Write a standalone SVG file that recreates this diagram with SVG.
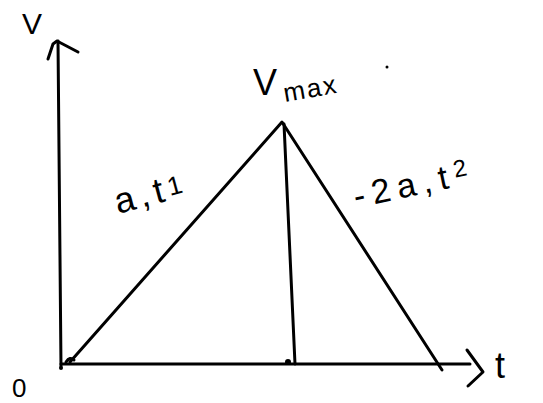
<svg xmlns="http://www.w3.org/2000/svg" width="543" height="403" viewBox="0 0 543 403">
<style>
.ln{fill:none;stroke:#000;stroke-width:3;stroke-linecap:round;stroke-linejoin:round}
.tx{font-family:"Liberation Sans",Arial,sans-serif;fill:#000}
</style>
<rect width="543" height="403" fill="#fff"/>
<g id="axes">
<path class="ln" d="M58,41 L61,367"/>
<path class="ln" d="M48,59 L53,44 L57,41 L78,52"/>
<path class="ln" d="M61,364 L470,364"/>
<path class="ln" d="M467,350 L483,372 L468,386"/>
<circle cx="61" cy="368" r="2"/>
</g>
<g id="connectors">
<path class="ln" d="M70,362 L282,122 L442,370"/>
<path class="ln" d="M284,124 L295,364"/>
<path class="ln" d="M66,362 Q70,356 74,360"/>
<circle cx="288" cy="362" r="3"/>
</g>
<g id="labels">
<text class="tx" x="22" y="34" font-size="30">V</text>
<text class="tx" x="253" y="95" font-size="36">V</text>
<text class="tx" x="285" y="102" font-size="26" letter-spacing="2" transform="rotate(-10 285 102)">max</text>
<circle cx="387" cy="67" r="1.5"/>
<text class="tx" x="118" y="214" font-size="36" letter-spacing="5" transform="rotate(-15 118 214)">a,t<tspan font-size="26" dy="-4">1</tspan></text>
<text class="tx" x="356" y="208" font-size="34" letter-spacing="7" transform="rotate(-12 356 208)">-2a,t<tspan font-size="24" dy="-9">2</tspan></text>
<text class="tx" x="12" y="397" font-size="26">0</text>
<text class="tx" x="495" y="378" font-size="36">t</text>
</g>
</svg>
